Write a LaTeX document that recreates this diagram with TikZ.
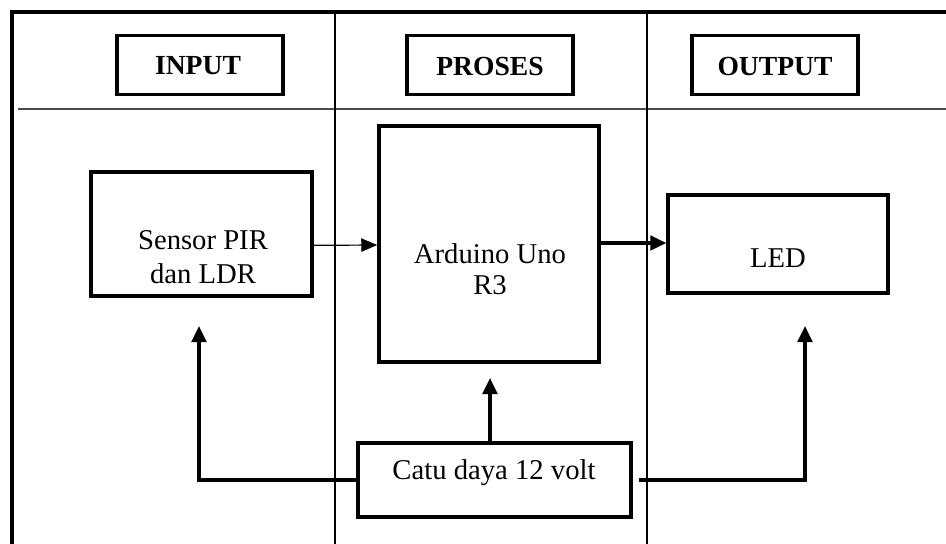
\documentclass[tikz,border=0pt]{standalone}
\usepackage{fontspec}
\setmainfont{Liberation Serif}
\usetikzlibrary{arrows.meta,positioning,calc}

\begin{document}
\begin{tikzpicture}[x=0.75pt,y=-0.75pt,
    kotak/.style={draw, line width=2.6pt, inner sep=0pt},
    judul/.style={font=\fontsize{20.7}{23}\selectfont\bfseries},
    teks/.style={font=\fontsize{21.5}{23.5}\selectfont, align=center},
    panah/.style={-{Triangle[length=12pt,width=11pt]}, line width=2.4pt}]
        \useasboundingbox (0,0) rectangle (946,543);
        \clip (0,0) rectangle (946,543);
        % kerangka tabel
        \draw[line width=3pt] (12,560) -- (12,12) -- (960,12);
        \draw[line width=1.6pt, black!70] (18,109) -- (960,109);
        \draw[line width=0.9pt] (335,12) -- (335,560);
        \draw[line width=0.9pt] (647,12) -- (647,560);
        % judul kolom
        \node[kotak, minimum width=124.5pt, minimum height=44.5pt] (kInput) at (200,65) {};
        \node[kotak, minimum width=124.5pt, minimum height=44.5pt] (kProses) at (490,65) {};
        \node[kotak, minimum width=124.5pt, minimum height=44.5pt] (kOutput) at (775,65) {};
        \node[judul] (tInput) at (198,66) {INPUT};
        \node[judul] (tProses) at (490,66) {PROSES};
        \node[judul] (tOutput) at (775,66) {OUTPUT};
        % blok
        \node[kotak, minimum width=165.75pt, minimum height=93pt] (sensor) at (201.5,234) {};
        \node[kotak, minimum width=165pt, minimum height=177pt] (arduino) at (489,244) {};
        \node[kotak, minimum width=165pt, minimum height=73.5pt] (led) at (778,244) {};
        \node[kotak, minimum width=204.75pt, minimum height=55.5pt] (catu) at (494.5,480) {};
        \node[teks, font=\fontsize{21.5}{25.5}\selectfont] (tSensor) at (203,257) {Sensor PIR\\dan LDR};
        \node[teks] (tArduino) at (490,269) {Arduino Uno\\R3};
        \node[teks] (tLed) at (778,258) {LED};
        \node[teks] (tCatu) at (494,473) {Catu daya 12 volt};
        % titik ujung panah
        \coordinate (ujungKiri) at (199,326);
        \coordinate (ujungKanan) at (805,326);
        \coordinate (ujungTengah) at (490,378);
        % panah
        \draw[-{Triangle[length=12pt,width=10pt]}, line width=0.9pt] ([yshift=-8.5pt]sensor.east) -- ([yshift=-0.75pt]arduino.west);
        \draw[panah] ([yshift=0.75pt]arduino.east) -- ([yshift=0.75pt]led.west);
        \draw[panah] (ujungTengah |- catu.north) -- (ujungTengah);
        \draw[panah] (catu.west) -| (ujungKiri);
        \draw[panah] ([xshift=5pt]catu.east) -| (ujungKanan);
\end{tikzpicture}
\end{document}
